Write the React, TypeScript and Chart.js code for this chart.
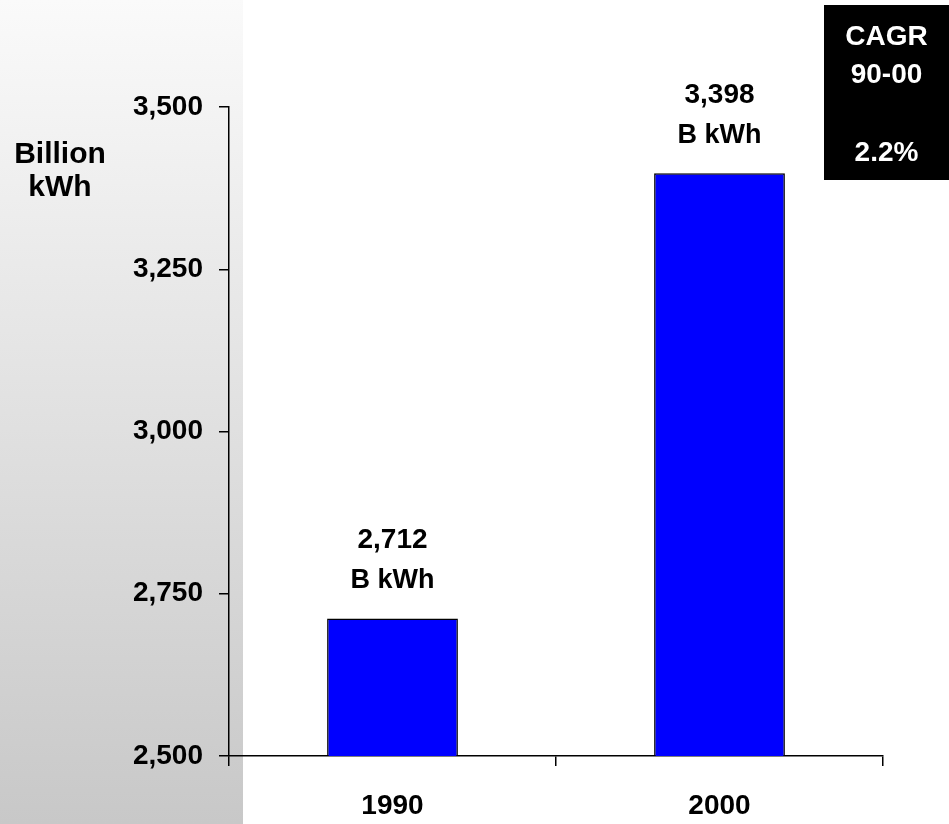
import React, { useEffect, useRef } from "react";
import { Chart, registerables } from "chart.js";

Chart.register(...registerables);

const categories = ["1990", "2000"];
const values = [2712, 3398];
const valueLabels = ["2,712", "3,398"];
const unitLabel = "B kWh";
const yMin = 2500;
const yMax = 3500;
const yStep = 250;
const axisTitle = ["Billion", "kWh"];
const cagrLines = ["CAGR", "90-00", "2.2%"];

const FONT_FAMILY = "'Liberation Sans', Arial, sans-serif";
const FONT_SIZE = 28;

const decorPlugin = {
  id: "decor",
  beforeDraw(chart: any) {
    const ctx = chart.ctx;
    ctx.save();
    const g = ctx.createLinearGradient(0, 0, 0, chart.height);
    g.addColorStop(0, "#fafafa");
    g.addColorStop(1, "#c8c8c8");
    ctx.fillStyle = g;
    ctx.fillRect(0, 0, 243, chart.height);
    ctx.restore();
  },
  afterDatasetsDraw(chart: any) {
    const ctx = chart.ctx;
    ctx.save();
    ctx.textAlign = "center";
    ctx.textBaseline = "middle";
    ctx.fillStyle = "#000";
    const meta = chart.getDatasetMeta(0);
    meta.data.forEach((bar: any, i: number) => {
      ctx.font = `bold ${FONT_SIZE}px ${FONT_FAMILY}`;
      ctx.fillText(valueLabels[i], bar.x, bar.y - 78);
      ctx.font = `bold 27px ${FONT_FAMILY}`;
      ctx.fillText(unitLabel, bar.x, bar.y - 38);
    });
    // axis title
    ctx.font = `bold 30px ${FONT_FAMILY}`;
    ctx.fillText(axisTitle[0], 60, 155);
    ctx.fillText(axisTitle[1], 60, 188);
    // CAGR box
    ctx.fillStyle = "#000";
    ctx.fillRect(824, 5, chart.width - 824, 175);
    ctx.fillStyle = "#fff";
    ctx.font = `bold ${FONT_SIZE}px ${FONT_FAMILY}`;
    const cx = (824 + chart.width) / 2;
    ctx.fillText(cagrLines[0], cx, 37);
    ctx.fillText(cagrLines[1], cx, 75);
    ctx.fillText(cagrLines[2], cx, 153);
    ctx.restore();
  },
};

export default function App() {
  const ref = useRef<HTMLCanvasElement | null>(null);
  useEffect(() => {
    const font = { family: FONT_FAMILY, size: FONT_SIZE, weight: "bold" as const };
    const chart = new Chart(ref.current as HTMLCanvasElement, {
      type: "bar",
      data: {
        labels: categories,
        datasets: [
          {
            data: values,
            backgroundColor: "#0000ff",
            borderColor: "#000000",
            borderWidth: 1.5,
            barPercentage: 0.4,
            categoryPercentage: 1,
          },
        ],
      },
      options: {
        responsive: false,
        animation: false,
        devicePixelRatio: 1,
        layout: { padding: { top: 107, right: 66, left: 0, bottom: 0 } },
        plugins: { legend: { display: false }, tooltip: { enabled: false } },
        scales: {
          x: {
            offset: true,
            grid: {
              offset: true,
              drawOnChartArea: false,
              drawTicks: true,
              tickLength: 10,
              color: "#000",
              lineWidth: 1.5,
            },
            border: { display: true, color: "#000", width: 1.5 },
            ticks: { font, color: "#000", padding: 23, maxRotation: 0 },
            afterFit: (s: any) => {
              s.height = 68;
            },
          },
          y: {
            min: yMin,
            max: yMax,
            grid: {
              drawOnChartArea: false,
              drawTicks: true,
              tickLength: 10,
              color: "#000",
              lineWidth: 1.5,
            },
            border: { display: true, color: "#000", width: 1.5 },
            ticks: {
              stepSize: yStep,
              font,
              color: "#000",
              padding: 16,
              callback: (v: any) => Number(v).toLocaleString("en-US"),
            },
            afterFit: (s: any) => {
              s.width = 229;
            },
          },
        },
      },
      plugins: [decorPlugin],
    });
    return () => chart.destroy();
  }, []);
  return (
    <div style={{ position: "absolute", left: 0, top: 0, width: 949, height: 824, background: "#fff" }}>
      <canvas ref={ref} width={949} height={824} style={{ display: "block" }} />
    </div>
  );
}
